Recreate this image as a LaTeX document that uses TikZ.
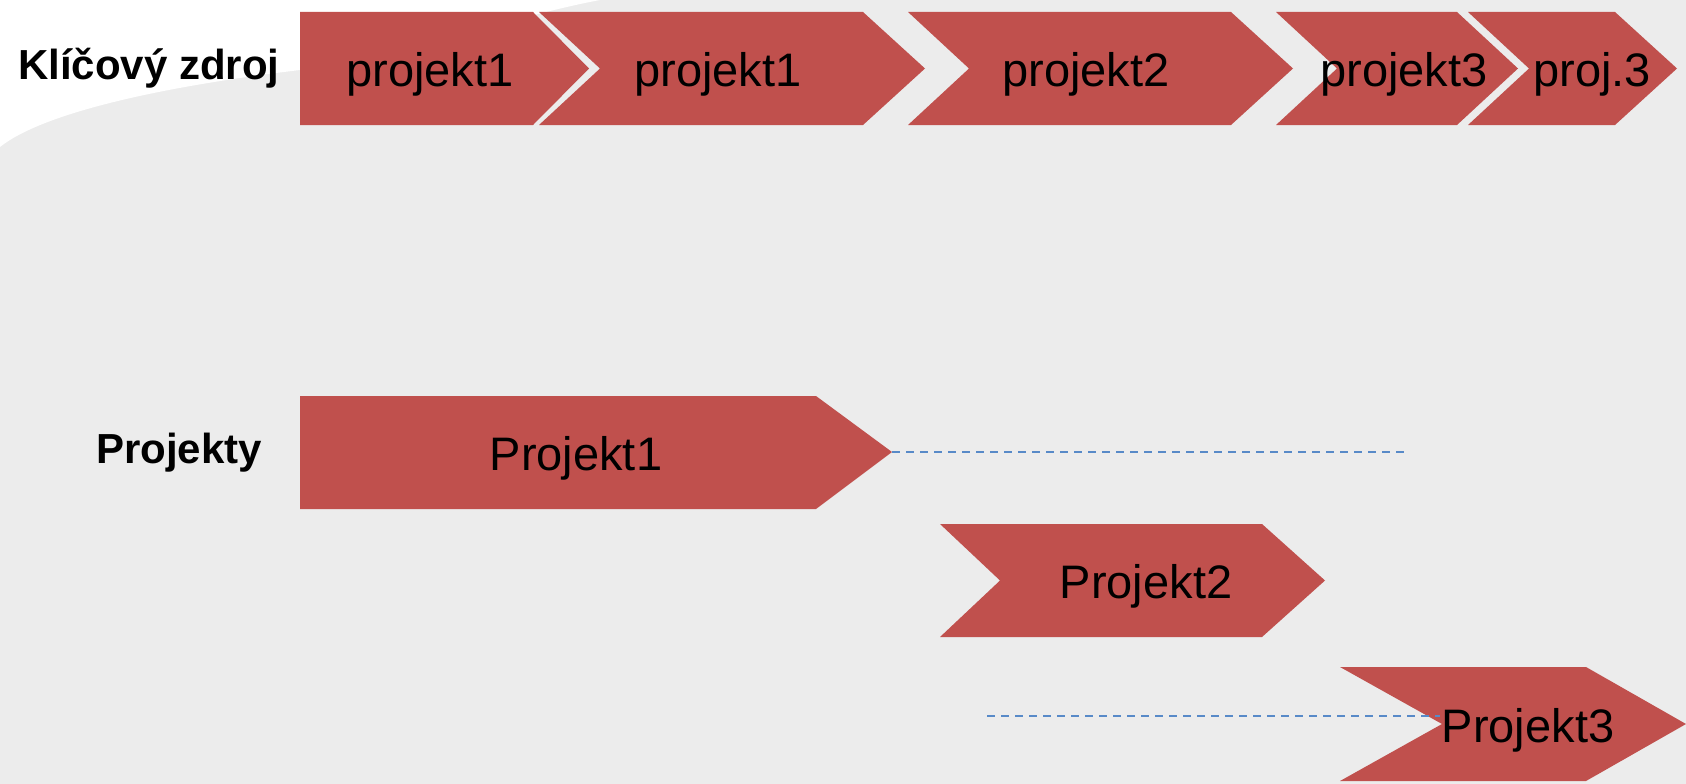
\documentclass[tikz,border=0pt]{standalone}
\usepackage{fontspec}
\setmainfont{Liberation Sans}
\definecolor{bggray}{HTML}{ECECEC}
\definecolor{chevred}{HTML}{C0504D}
\definecolor{dashblue}{RGB}{88,138,200}
\tikzset{
  chev/.style={fill=chevred, draw=none},
  lbl/.style={anchor=base, inner sep=0pt, font=\fontsize{47}{56}\selectfont, text=black},
  rowlbl/.style={anchor=base, inner sep=0pt, font=\fontsize{42}{50}\selectfont\bfseries, text=black},
  guide/.style={draw=dashblue, line width=2pt, dash pattern=on 8pt off 6pt}
}
\begin{document}
\begin{tikzpicture}[x=1pt,y=-1pt]
\useasboundingbox (0,0) rectangle (1686,784);
% background
\fill[bggray] (0,0) rectangle (1686,784);
\fill[white] (0,0) -- (600,0) .. controls (520,15) and (420,50) .. (300,70)
  .. controls (150,88) and (40,115) .. (0,147) -- cycle;

% top row chevrons (key resource)
\fill[chev] (300,12) -- (533,12) -- (589,68.5) -- (533,125) -- (300,125) -- cycle;
\fill[chev] (539,12) -- (863,12) -- (925,68.5) -- (863,125) -- (539,125) -- (600,68.5) -- cycle;
\fill[chev] (908,12) -- (1231,12) -- (1293,68.5) -- (1231,125) -- (908,125) -- (969,68.5) -- cycle;
\fill[chev] (1276,12) -- (1457,12) -- (1518,68.5) -- (1457,125) -- (1276,125) -- (1337,68.5) -- cycle;
\fill[chev] (1468,12) -- (1615,12) -- (1677,68.5) -- (1615,125) -- (1468,125) -- (1529,68.5) -- cycle;

% project chevrons
\fill[chev] (300,396) -- (816,396) -- (892,452) -- (816,509) -- (300,509) -- cycle;
\fill[chev] (940,524) -- (1262,524) -- (1325,580.5) -- (1262,637) -- (940,637) -- (1000,580.5) -- cycle;
\fill[chev] (1340,667) -- (1586,667) -- (1686,724) -- (1586,781) -- (1340,781) -- (1442,724) -- cycle;

% connectors
\coordinate (p1tip) at (892,452);
\coordinate (d1end) at (1408,452);
\coordinate (d2start) at (987,716);
\coordinate (p3notch) at (1440,716);
\draw[guide] (p1tip) -- (d1end);
\draw[guide] (d2start) -- (p3notch);

% row labels
\node[rowlbl] (kz) at (149,80) {Klíčový zdroj};
\node[rowlbl] (pr) at (179,463) {Projekty};

% chevron labels
\node[lbl] (k1) at (430,86) {projekt1};
\node[lbl] (k2) at (718,86) {projekt1};
\node[lbl] (k3) at (1086,86) {projekt2};
\node[lbl] (k4) at (1404,86) {projekt3};
\node[lbl] (k5) at (1592,86) {proj.3};
\node[lbl] (pj1) at (576,470) {Projekt1};
\node[lbl] (pj2) at (1146,598) {Projekt2};
\node[lbl] (pj3) at (1528,742) {Projekt3};
\end{tikzpicture}
\end{document}
